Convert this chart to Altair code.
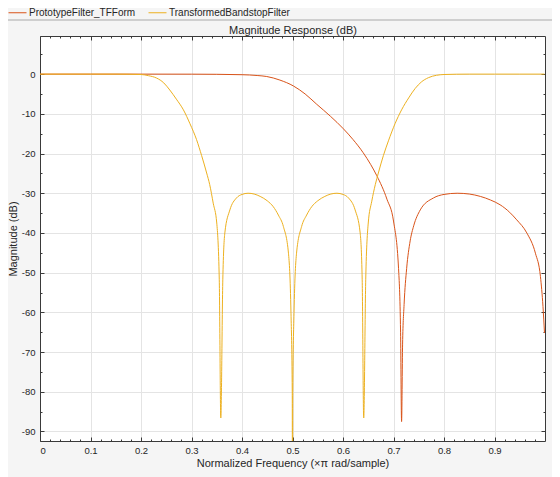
import altair as alt
import pandas as pd

# ---- data ----
series_names = ["PrototypeFilter_TFForm", "TransformedBandstopFilter"]

proto_f = [0.0, 0.1, 0.2, 0.3, 0.4, 0.43, 0.449, 0.475, 0.502, 0.525, 0.548,
           0.575, 0.601, 0.62, 0.640, 0.655, 0.667, 0.687, 0.700, 0.710, 0.714,
           0.716, 0.718, 0.721, 0.726, 0.733, 0.740, 0.753, 0.779, 0.800, 0.826,
           0.850, 0.872, 0.892, 0.911, 0.930, 0.944, 0.964, 0.981, 0.991, 0.996,
           0.999]
proto_db = [0.0, 0.0, 0.0, -0.01, -0.15, -0.35, -0.6, -1.5, -3.0, -5.0, -7.6,
            -10.6, -13.8, -16.5, -19.8, -22.8, -25.6, -31.5, -37.0, -49.0, -65.0,
            -87.5, -68.0, -58.0, -49.0, -42.0, -38.2, -34.2, -31.2, -30.3, -30.0,
            -30.2, -30.8, -31.7, -32.9, -34.8, -36.7, -40.0, -45.1, -51.0, -58.5,
            -65.2]

bs_f = [0.0, 0.1, 0.15, 0.2, 0.215, 0.231, 0.245, 0.257, 0.27, 0.284, 0.297,
        0.310, 0.320, 0.330, 0.336, 0.343, 0.350, 0.355, 0.358, 0.362, 0.366,
        0.376, 0.389, 0.400, 0.412, 0.424, 0.436, 0.450, 0.462, 0.472, 0.482,
        0.492, 0.497, 0.4995, 0.500, 0.5005, 0.503, 0.508, 0.518, 0.528, 0.538,
        0.550, 0.564, 0.576, 0.588, 0.600, 0.611, 0.624, 0.634, 0.638, 0.641,
        0.645, 0.650, 0.657, 0.664, 0.670, 0.680, 0.690, 0.703, 0.716, 0.730,
        0.743, 0.755, 0.769, 0.785, 0.800, 0.850, 0.900, 0.950, 0.999]
bs_db = [0.0, 0.0, 0.0, -0.1, -0.4, -1.0, -2.2, -4.0, -6.3, -9.0, -12.5,
         -16.5, -20.5, -24.9, -27.8, -32.5, -37.5, -51.8, -86.6, -51.8, -40.0,
         -34.2, -31.2, -30.3, -30.0, -30.2, -30.8, -31.9, -33.4, -35.5, -38.4,
         -45.1, -60.2, -80.0, -130.0, -80.0, -60.2, -45.1, -38.4, -35.5, -33.4,
         -31.9, -30.8, -30.2, -30.0, -30.3, -31.2, -34.2, -40.0, -51.8, -86.6,
         -51.8, -37.5, -32.0, -27.8, -24.9, -20.5, -16.8, -12.5, -9.0, -6.0,
         -3.6, -2.0, -0.9, -0.3, -0.1, 0.0, 0.0, 0.0, 0.0]

x_major = [0, 0.1, 0.2, 0.3, 0.4, 0.5, 0.6, 0.7, 0.8, 0.9]
y_major = [-90, -80, -70, -60, -50, -40, -30, -20, -10, 0]
x_minor = [0.02, 0.04, 0.06, 0.08, 0.12, 0.14, 0.16, 0.18, 0.22, 0.24, 0.26,
           0.28, 0.32, 0.34, 0.36, 0.38, 0.42, 0.44, 0.46, 0.48, 0.52, 0.54,
           0.56, 0.58, 0.62, 0.64, 0.66, 0.68, 0.72, 0.74, 0.76, 0.78, 0.82,
           0.84, 0.86, 0.88, 0.92, 0.94, 0.96, 0.98]
y_minor = [-85, -75, -65, -55, -45, -35, -25, -15, -5, 5]

x_domain = [0, 1.0]
y_domain = [-92.4, 9.6]

chart_title = "Magnitude Response (dB)"
x_title = "Normalized Frequency (×π rad/sample)"
y_title = "Magnitude (dB)"

df = pd.concat([
    pd.DataFrame({"f": proto_f, "db": proto_db, "series": series_names[0], "k": range(len(proto_f))}),
    pd.DataFrame({"f": bs_f, "db": bs_db, "series": series_names[1], "k": range(len(bs_f))}),
], ignore_index=True)

W, H = 505, 405
FONT = "Liberation Sans"
TXT = "#262626"
AX = "#3a3a3a"

xs = alt.Scale(domain=x_domain, nice=False, zero=False)
ys = alt.Scale(domain=y_domain, nice=False, zero=False)

base = alt.Chart(df)

lines = base.mark_line(strokeWidth=1, clip=True, interpolate="monotone").encode(
    x=alt.X("f:Q", scale=xs, axis=alt.Axis(
        orient="bottom", values=x_major, labelExpr="toString(datum.value)",
        title=x_title, grid=True, ticks=False,
        tickSize=0, labelPadding=4, titlePadding=3, domain=True)),
    y=alt.Y("db:Q", scale=ys, axis=alt.Axis(
        orient="left", values=y_major, labelExpr="toString(datum.value)",
        title=y_title, grid=True, ticks=False, tickSize=0,
        labelPadding=5, titlePadding=3, domain=True)),
    color=alt.Color("series:N", scale=alt.Scale(domain=series_names, range=["#D95319", "#EDB120"]),
                    legend=alt.Legend(title=None, orient="none", direction="horizontal",
                                      legendX=-32, legendY=-33, padding=0, symbolType="stroke",
                                      symbolSize=324, symbolStrokeWidth=1, labelOffset=2,
                                      columnPadding=10, labelFontSize=10, labelFont=FONT,
                                      labelColor=TXT)),
    order="k:Q",
)

# chart title carried by an outward top axis without ticks/labels
title_layer = base.mark_point(opacity=0).encode(
    x=alt.X("f:Q", scale=xs, axis=alt.Axis(
        orient="top", labels=False, ticks=False, domain=False, grid=False,
        title=chart_title, titlePadding=1, titleFontSize=11)),
    y=alt.Y("db:Q", scale=ys, axis=None),
)


def tick_layer(xo, yo, xvals, yvals, size, dom):
    return base.mark_point(opacity=0).encode(
        x=alt.X("f:Q", scale=xs, axis=alt.Axis(
            orient=xo, offset=-H, values=xvals, labels=False, grid=False,
            domain=dom, ticks=True, tickSize=size, title=None)),
        y=alt.Y("db:Q", scale=ys, axis=alt.Axis(
            orient=yo, offset=-W, values=yvals, labels=False, grid=False,
            domain=dom, ticks=True, tickSize=size, title=None)),
    )


# inward ticks on bottom/left (axes flipped onto the opposite side)
t1 = tick_layer("top", "right", x_major, y_major, 4, False)
t2 = tick_layer("top", "right", x_minor, y_minor, 2, False)
# inward ticks on top/right, with their domain lines as box edges
t3 = tick_layer("bottom", "left", x_major, y_major, 4, True)
t4 = tick_layer("bottom", "left", x_minor, y_minor, 2, False)

sep = alt.Chart(pd.DataFrame({"a": [0]})).mark_rule(color="#a9a9a9", strokeWidth=1).encode(
    x=alt.value(-40), x2=alt.value(W + 20), y=alt.value(-16)
)

chart = alt.layer(lines, title_layer, t1, t2, t3, t4, sep).resolve_axis(
    x="independent", y="independent"
).properties(
    width=W, height=H,
    autosize=alt.AutoSizeParams(type="none"),
    padding={"left": 32, "top": 28, "right": 7, "bottom": 36},
).configure(
    background="#f5f5f5",
).configure_view(
    fill="white", stroke=None
).configure_axis(
    labelFont=FONT, labelFontSize=9.5, labelColor=TXT,
    titleFont=FONT, titleFontSize=11, titleColor=TXT, titleFontWeight="normal",
    domainColor=AX, tickColor=AX, domainWidth=1, tickWidth=1,
    gridColor="#e4e4e4", gridWidth=1,
)

chart.save("out.html", embed_options={"renderer": "svg", "actions": False})
